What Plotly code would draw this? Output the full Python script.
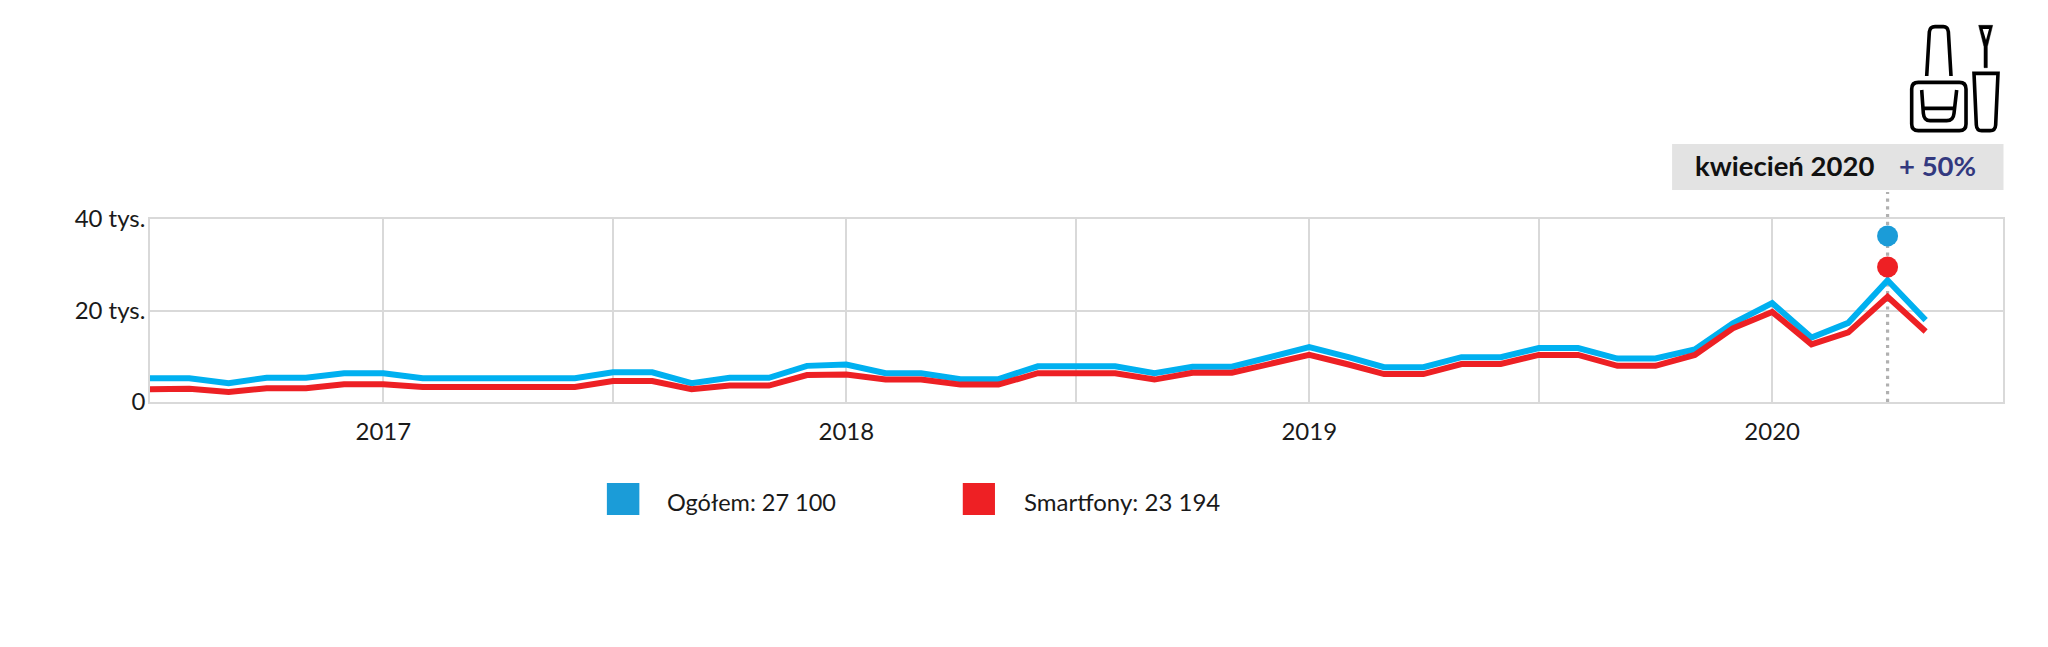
import pandas as pd
import plotly.graph_objects as go

# page offset of the plot inside the browser body
PAGE_W = 2048
PAGE_H = 647
BODY_MARGIN = 8
PLOT_L, PLOT_R, PLOT_T, PLOT_B = 149.5, 2003, 219, 402

FONT = "Lato"
GRID = "#d9d9d9"
BLUE_LINE = "#00b0f0"
RED_LINE = "#ed2024"
BLUE_MARK = "#1b9cd8"
RED_MARK = "#ee2024"

months = pd.date_range("2016-07-01", "2020-05-01", freq="MS")

# values in thousands
total = [5.2, 5.2, 4.1, 5.3, 5.3, 6.3, 6.3, 5.2, 5.2, 5.2, 5.2, 5.2,
         6.5, 6.5, 4.1, 5.3, 5.3, 7.9, 8.2, 6.3, 6.3, 5.0, 5.0, 7.8,
         7.8, 7.8, 6.3, 7.7, 7.7, 9.9, 12.0, 9.8, 7.6, 7.6, 9.8, 9.8,
         11.8, 11.8, 9.5, 9.5, 11.5, 17.2, 21.6, 14.1, 17.3, 26.6, 17.9]
smartphones = [2.8, 2.9, 2.2, 3.0, 3.0, 3.9, 3.9, 3.3, 3.3, 3.3, 3.3, 3.3,
               4.6, 4.6, 2.8, 3.6, 3.6, 5.9, 6.0, 4.9, 4.9, 3.8, 3.8, 6.3,
               6.3, 6.3, 4.9, 6.4, 6.4, 8.4, 10.3, 8.2, 6.1, 6.1, 8.3, 8.3,
               10.3, 10.3, 7.9, 7.9, 10.3, 16.1, 19.7, 12.6, 15.2, 23.0, 15.4]

peak_month = "2020-04-01"
marker_total = 36.3
marker_smartphones = 29.5

y_ticks = [0, 20, 40]
y_labels = ["0", "20 tys.", "40 tys."]
x_ticks = ["2016-07-01", "2017-01-01", "2017-07-01", "2018-01-01", "2018-07-01",
           "2019-01-01", "2019-07-01", "2020-01-01", "2020-07-01"]
x_labels = ["", "2017", "", "2018", "", "2019", "", "2020", ""]

legend_labels = ["Ogółem: 27 100", "Smartfony: 23 194"]
box_month = "kwiecień 2020"
box_change = "+ 50%"

fig_w = PAGE_W - 2 * BODY_MARGIN
fig_h = PAGE_H - 2 * BODY_MARGIN


# paper coordinates run over the plot area, so page pixels are converted against it
def px(x):
    return (x - PLOT_L) / (PLOT_R - PLOT_L)


def py(y):
    return (PLOT_B - y) / (PLOT_B - PLOT_T)


def rect(x0, y0, x1, y1, color):
    return dict(type="rect", xref="paper", yref="paper", x0=px(x0), x1=px(x1), y0=py(y0), y1=py(y1),
                fillcolor=color, line_width=0, layer="below")


def label(x, y, text, size=23.5, color="#1a1a1a", bold=False):
    text = "<b>%s</b>" % text if bold else text
    return dict(xref="paper", yref="paper", x=px(x), y=py(y), text=text, showarrow=False, xanchor="left",
                yanchor="middle", xshift=-1, font=dict(family=FONT, size=size, color=color))


def icon(cmds, fill="rgba(0,0,0,0)", width=3.6, color="#000000"):
    # cmds are in coordinates of the 3x crop that starts at x=1650
    path = ""
    for cmd in cmds:
        if cmd == "Z":
            path += "Z "
            continue
        coords = cmd[1:]
        pts = [(px(1650 + coords[i] / 3), py(coords[i + 1] / 3)) for i in range(0, len(coords), 2)]
        path += cmd[0] + " ".join("%.5f,%.5f" % p for p in pts) + " "
    return dict(type="path", xref="paper", yref="paper", path=path, fillcolor=fill,
                line=dict(color=color, width=width))


fig = go.Figure()
fig.add_trace(go.Scatter(x=months, y=total, mode="lines", line=dict(color=BLUE_LINE, width=6)))
fig.add_trace(go.Scatter(x=months, y=smartphones, mode="lines", line=dict(color=RED_LINE, width=6)))
fig.add_trace(go.Scatter(x=[peak_month], y=[marker_total], mode="markers",
                         marker=dict(color=BLUE_MARK, size=21)))
fig.add_trace(go.Scatter(x=[peak_month], y=[marker_smartphones], mode="markers",
                         marker=dict(color=RED_MARK, size=21)))

shapes = [
    rect(1672, 144, 2003.5, 190, "#e3e3e3"),
    rect(606.5, 483, 639, 515, BLUE_MARK),
    rect(962.5, 483, 994.7, 515, RED_MARK),
    # dotted guide runs up out of the plot to the grey box
    dict(type="line", xref="x", yref="paper", x0=peak_month, x1=peak_month, y0=0, y1=py(192),
         line=dict(color="#b0b0b0", width=3.2, dash="3.2px,4.5px"), layer="below"),
    # bottle neck
    icon([("M", 830, 228), ("L", 838, 95), ("Q", 840, 80, 855, 80), ("L", 880, 80), ("Q", 893, 80, 895, 95),
          ("L", 903, 228)]),
    # bottle body
    icon([("M", 805, 247), ("L", 928, 247), ("Q", 948, 247, 948, 267), ("L", 948, 372), ("Q", 948, 392, 928, 392),
          ("L", 805, 392), ("Q", 785, 392, 785, 372), ("L", 785, 267), ("Q", 785, 247, 805, 247), "Z"]),
    # polish inside the bottle
    icon([("M", 815, 270), ("L", 820, 340), ("Q", 822, 362, 840, 362), ("L", 890, 362), ("Q", 910, 362, 912, 340),
          ("L", 920, 270)]),
    icon([("M", 820, 325), ("L", 915, 325)]),
    # brush
    icon([("M", 986, 76), ("L", 1028, 76), ("L", 1012, 140), ("L", 1012, 203), ("L", 1002, 203), ("L", 1002, 140), "Z"],
         fill="#000000", width=0.5),
    icon([("M", 998, 87), ("L", 1017, 87), ("L", 1008, 120), "Z"], fill="#ffffff", width=0),
    # tube
    icon([("M", 972, 220), ("L", 1044, 220), ("L", 1037, 375), ("Q", 1036, 392, 1020, 392), ("L", 995, 392),
          ("Q", 980, 392, 979, 375), "Z"]),
]

annotations = [
    label(1694, 166, box_month, size=27.5, color="#111111", bold=True),
    label(1898, 166, box_change, size=27.5, color="#33397f", bold=True),
    label(665.5, 501.5, legend_labels[0]),
    label(1023, 501.5, legend_labels[1], size=24),
]

fig.update_layout(
    width=fig_w, height=fig_h, showlegend=False, paper_bgcolor="white", plot_bgcolor="white",
    margin=dict(l=PLOT_L - BODY_MARGIN, r=fig_w - (PLOT_R - BODY_MARGIN), t=PLOT_T - BODY_MARGIN,
                b=fig_h - (PLOT_B - BODY_MARGIN), pad=0),
    font=dict(family=FONT, size=24, color="#1a1a1a"),
    shapes=shapes, annotations=annotations,
)
fig.update_xaxes(type="date", range=["2016-07-01", "2020-07-01"], tickmode="array", tickvals=x_ticks,
                 ticktext=x_labels, showgrid=True, gridcolor=GRID, gridwidth=1.5, showline=True, linecolor=GRID,
                 linewidth=1.5, mirror=True, ticks="outside", ticklen=7, tickcolor="rgba(0,0,0,0)", zeroline=False)
fig.update_yaxes(range=[0, 40], tickmode="array", tickvals=y_ticks, ticktext=y_labels, showgrid=True, gridcolor=GRID,
                 gridwidth=1.5, showline=True, linecolor=GRID, linewidth=1.5, mirror=True, ticks="",
                 ticklabelstandoff=-2, zeroline=False)

fig.write_html("out.html")
